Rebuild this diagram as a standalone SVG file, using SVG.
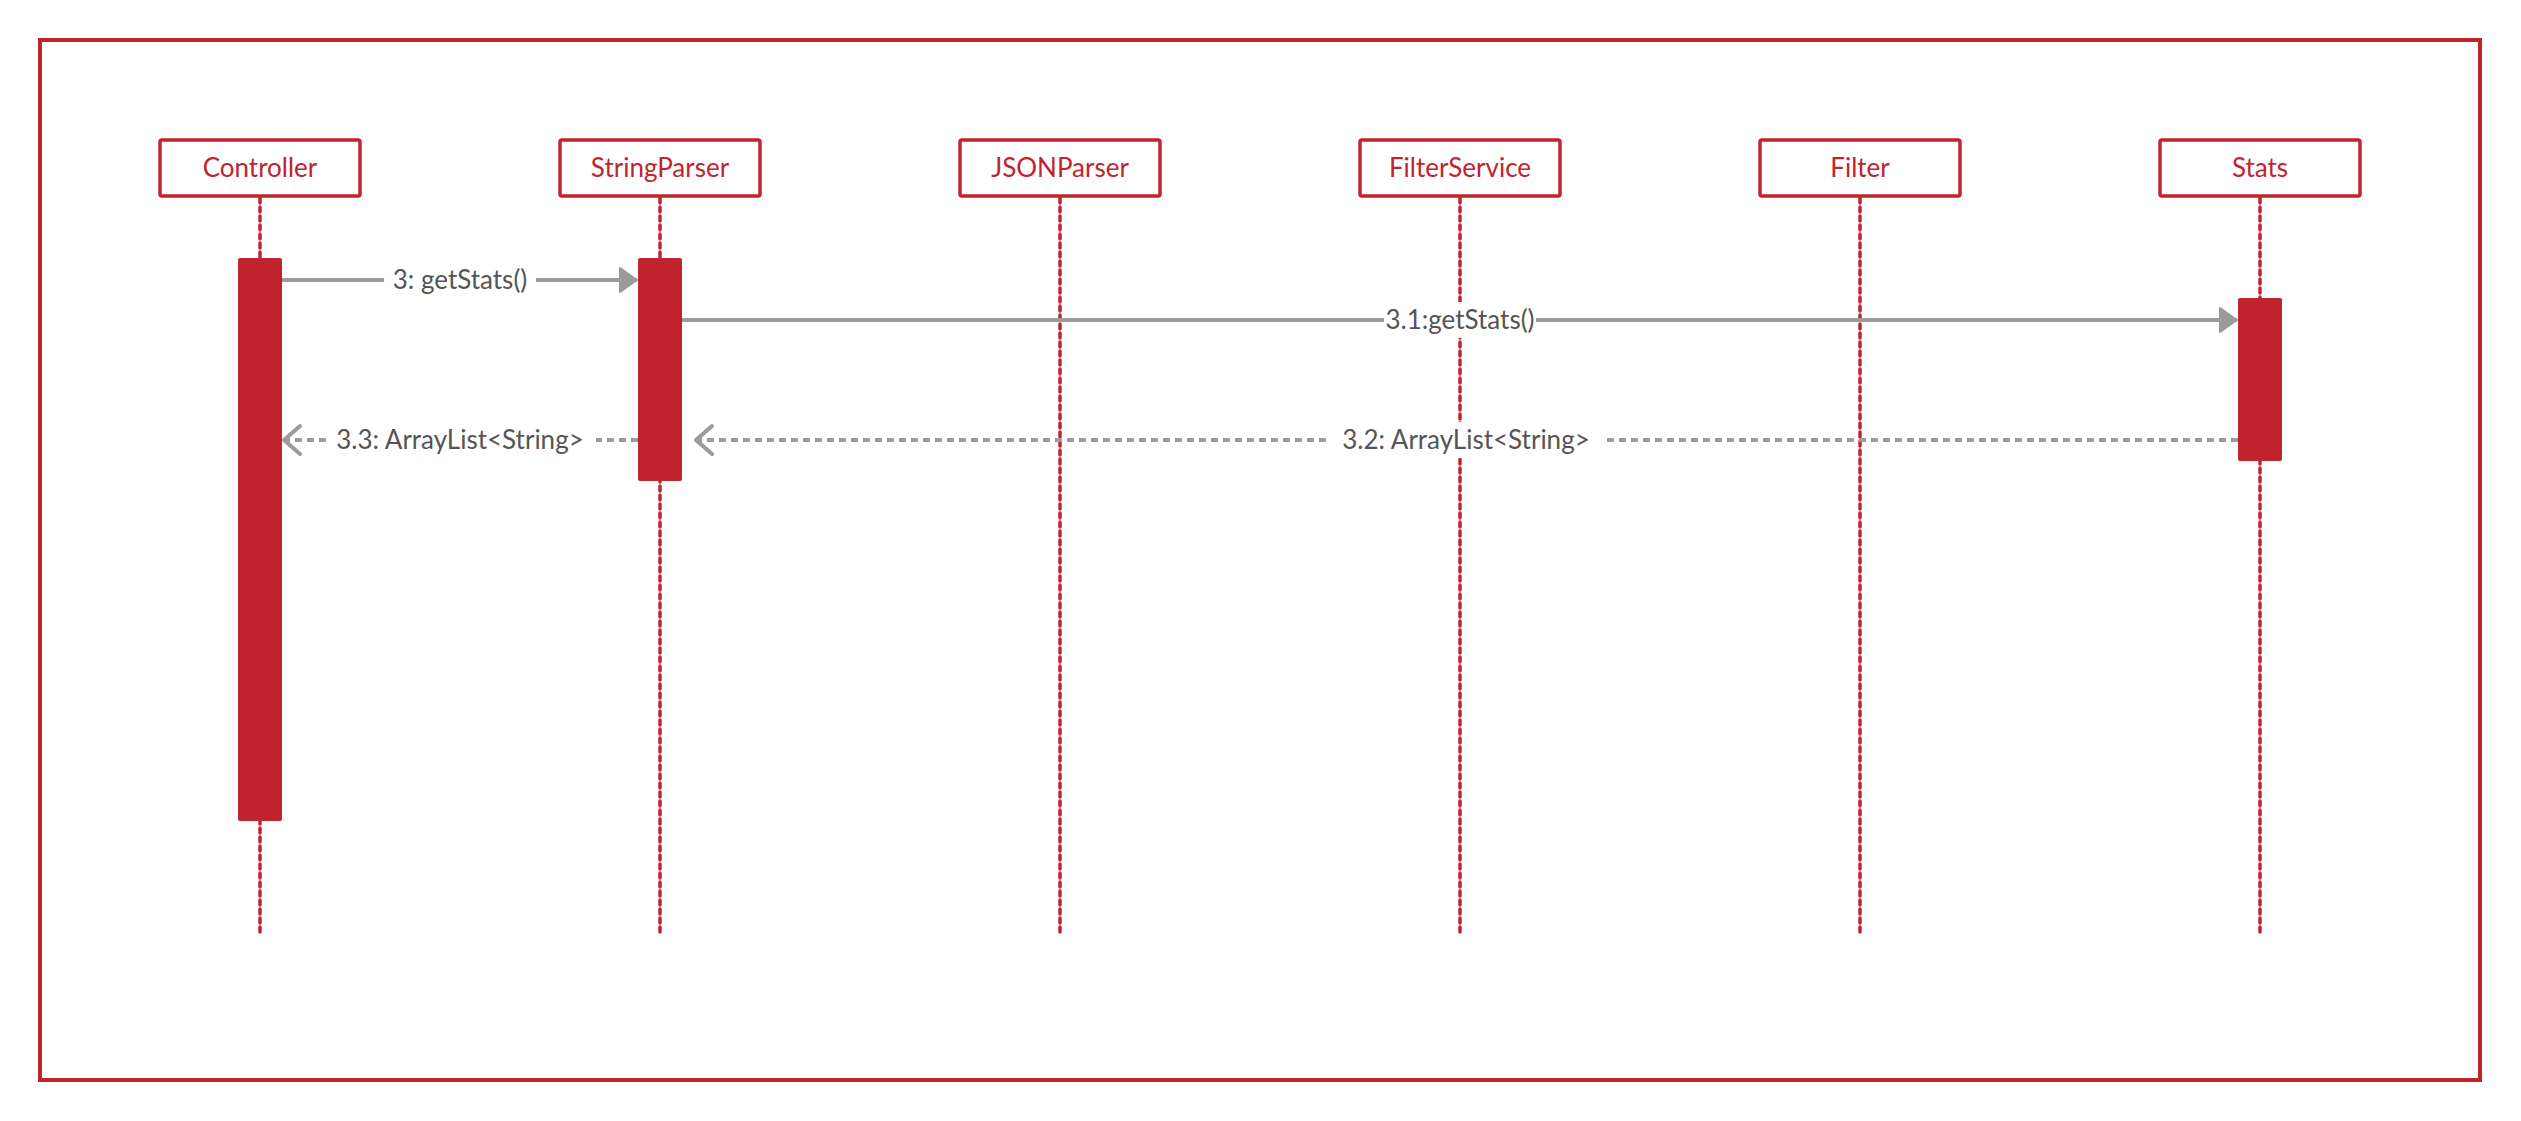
<svg xmlns="http://www.w3.org/2000/svg" width="2521" height="1121" viewBox="0 0 2521 1121">
<style>
.frame{fill:none;stroke:#C1232F;stroke-width:4}
.head{fill:#fff;stroke:#C1232F;stroke-width:3.5}
.name{font-family:Lato,"Liberation Sans",sans-serif;font-size:26px;fill:#C1232F;text-anchor:middle}
.life{stroke:#C1232F;stroke-width:3.5;stroke-dasharray:5 4;stroke-linecap:round;fill:none}
.act{fill:#C1232F}
.msg{stroke:#9B9B9B;stroke-width:4;fill:none}
.ret{stroke:#9B9B9B;stroke-width:4;fill:none;stroke-dasharray:7 5}
.lbl{font-family:Lato,"Liberation Sans",sans-serif;font-size:26px;fill:#555;text-anchor:middle}
.bg{fill:#fff}
</style>
<defs>
<marker id="filled" markerUnits="userSpaceOnUse" markerWidth="24" markerHeight="32" refX="19" refY="14" orient="auto">
<path d="M2,2 L19,14 L2,26 Z" fill="#9B9B9B" stroke="#9B9B9B" stroke-width="2" stroke-linejoin="round"/>
</marker>
<marker id="open" markerUnits="userSpaceOnUse" markerWidth="24" markerHeight="34" refX="20" refY="16" orient="auto">
<path d="M4,2 L20,16 L4,30" fill="none" stroke="#9B9B9B" stroke-width="4" stroke-linecap="round" stroke-linejoin="round"/>
</marker>
</defs>
<rect class="frame" x="40" y="40" width="2440" height="1040"/>

<g id="controller">
<rect class="head" x="160" y="140" width="200" height="56" rx="2"/>
<text class="name" x="260" y="177">Controller</text>
<line class="life" x1="260" y1="198" x2="260" y2="934"/>
<rect class="act" x="238" y="258" width="44" height="563" rx="2"/>
</g>
<g id="stringparser">
<rect class="head" x="560" y="140" width="200" height="56" rx="2"/>
<text class="name" x="660" y="177">StringParser</text>
<line class="life" x1="660" y1="198" x2="660" y2="934"/>
<rect class="act" x="638" y="258" width="44" height="223" rx="2"/>
</g>
<g id="jsonparser">
<rect class="head" x="960" y="140" width="200" height="56" rx="2"/>
<text class="name" x="1060" y="177">JSONParser</text>
<line class="life" x1="1060" y1="198" x2="1060" y2="934"/>
</g>
<g id="filterservice">
<rect class="head" x="1360" y="140" width="200" height="56" rx="2"/>
<text class="name" x="1460" y="177">FilterService</text>
<line class="life" x1="1460" y1="198" x2="1460" y2="934"/>
</g>
<g id="filter">
<rect class="head" x="1760" y="140" width="200" height="56" rx="2"/>
<text class="name" x="1860" y="177">Filter</text>
<line class="life" x1="1860" y1="198" x2="1860" y2="934"/>
</g>
<g id="stats">
<rect class="head" x="2160" y="140" width="200" height="56" rx="2"/>
<text class="name" x="2260" y="177">Stats</text>
<line class="life" x1="2260" y1="198" x2="2260" y2="934"/>
<rect class="act" x="2238" y="298" width="44" height="163" rx="2"/>
</g>

<g id="connectors">
<line class="msg" x1="282" y1="280" x2="637" y2="280" marker-end="url(#filled)"/>
<rect class="bg" x="384" y="262" width="152" height="36"/>
<text class="lbl" x="460" y="289">3: getStats()</text>

<line class="msg" x1="682" y1="320" x2="2237" y2="320" marker-end="url(#filled)"/>
<rect class="bg" x="1384" y="302" width="152" height="36"/>
<text class="lbl" x="1460" y="329">3.1:getStats()</text>

<line class="ret" x1="2238" y1="440" x2="696" y2="440" marker-end="url(#open)"/>
<rect class="bg" x="1330" y="422" width="272" height="36"/>
<text class="lbl" x="1466" y="449">3.2: ArrayList&lt;String&gt;</text>

<line class="ret" x1="638" y1="440" x2="284" y2="440" marker-end="url(#open)"/>
<rect class="bg" x="326" y="422" width="270" height="36"/>
<text class="lbl" x="460" y="449">3.3: ArrayList&lt;String&gt;</text>
</g>
</svg>
